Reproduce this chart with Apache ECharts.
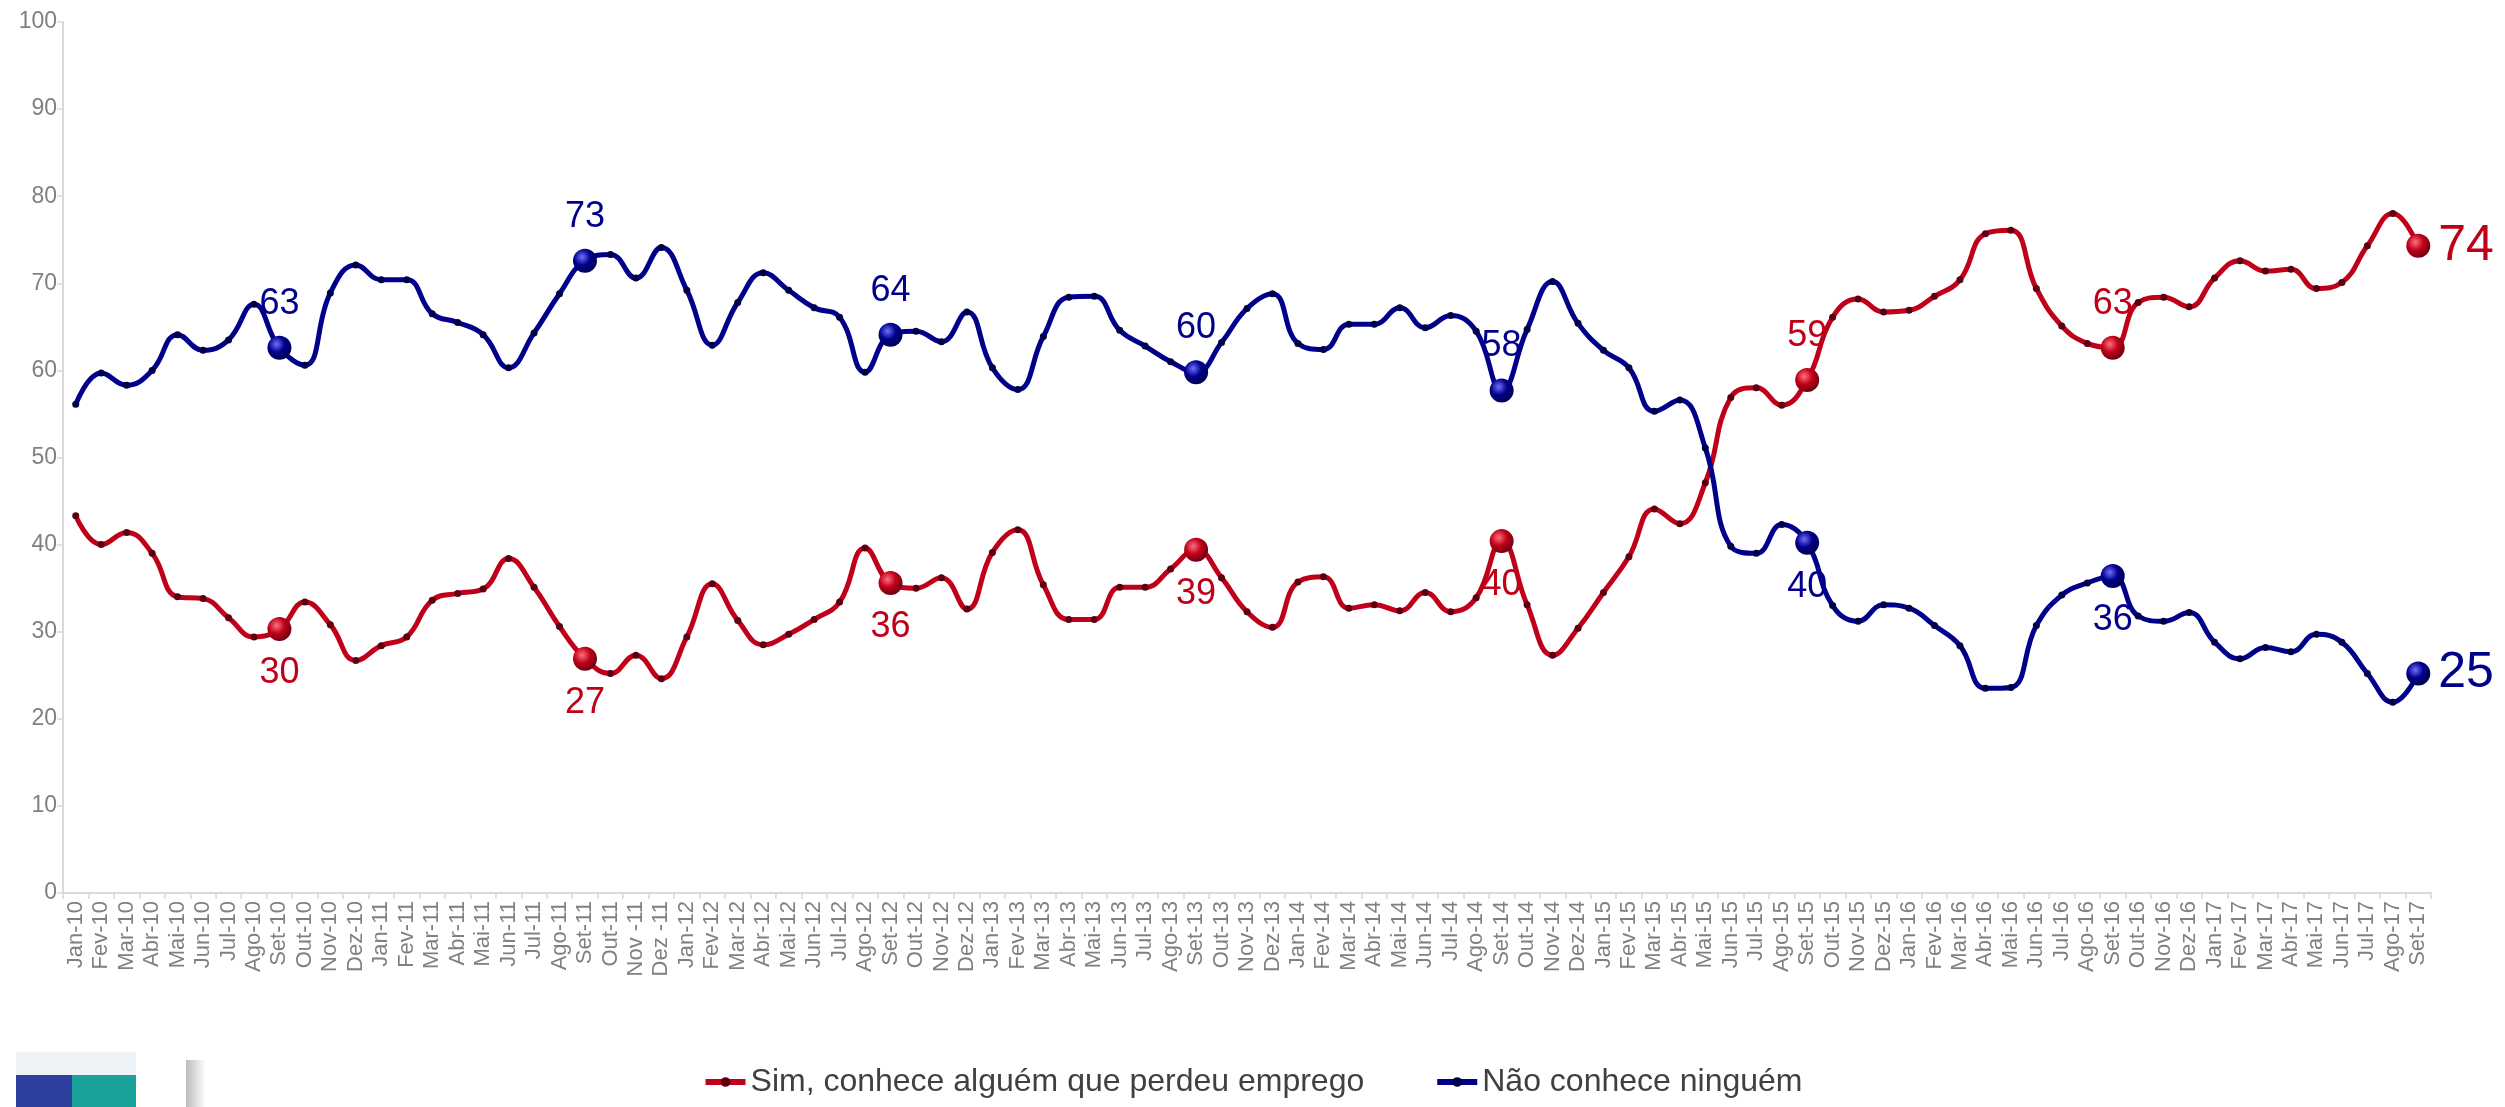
<!DOCTYPE html>
<html>
<head>
<meta charset="utf-8">
<script src="https://cdn.jsdelivr.net/npm/echarts@6/dist/echarts.min.js"></script>
<style>
html,body{margin:0;padding:0;background:#fff;}
#chart{width:2505px;height:1107px;}
</style>
</head>
<body>
<div id="chart"></div>
<script>
const categories = [
 "Jan-10","Fev-10","Mar-10","Abr-10","Mai-10","Jun-10","Jul-10","Ago-10","Set-10","Out-10","Nov-10","Dez-10",
 "Jan-11","Fev-11","Mar-11","Abr-11","Mai-11","Jun-11","Jul-11","Ago-11","Set-11","Out-11","Nov -11","Dez -11",
 "Jan-12","Fev-12","Mar-12","Abr-12","Mai-12","Jun-12","Jul-12","Ago-12","Set-12","Out-12","Nov-12","Dez-12",
 "Jan-13","Fev-13","Mar-13","Abr-13","Mai-13","Jun-13","Jul-13","Ago-13","Set-13","Out-13","Nov-13","Dez-13",
 "Jan-14","Fev-14","Mar-14","Abr-14","Mai-14","Jun-14","Jul-14","Ago-14","Set-14","Out-14","Nov-14","Dez-14",
 "Jan-15","Fev-15","Mar-15","Abr-15","Mai-15","Jun-15","Jul-15","Ago-15","Set-15","Out-15","Nov-15","Dez-15",
 "Jan-16","Fev-16","Mar-16","Abr-16","Mai-16","Jun-16","Jul-16","Ago-16","Set-16","Out-16","Nov-16","Dez-16",
 "Jan-17","Fev-17","Mar-17","Abr-17","Mai-17","Jun-17","Jul-17","Ago-17","Set-17"
];

const simValues = [
 43.3,40.0,41.4,39.0,34.0,33.8,31.6,29.4,30.3,33.4,30.8,26.7,
 28.4,29.4,33.6,34.4,34.9,38.4,35.1,30.6,26.9,25.2,27.3,24.6,
 29.4,35.5,31.3,28.5,29.7,31.4,33.4,39.6,35.6,35.0,36.2,32.6,
 39.1,41.7,35.4,31.4,31.4,35.1,35.1,37.2,39.4,36.2,32.3,30.5,
 35.7,36.3,32.7,33.1,32.4,34.5,32.3,33.9,40.4,33.1,27.3,30.4,
 34.5,38.6,44.1,42.4,47.1,56.9,58.0,56.0,58.9,66.1,68.2,66.7,
 66.9,68.5,70.4,75.7,76.1,69.4,65.1,63.1,62.6,67.8,68.4,67.3,
 70.6,72.6,71.4,71.6,69.4,70.1,74.3,78.0,74.3
];

const naoValues = [
 56.1,59.7,58.3,60.0,64.1,62.3,63.5,67.6,62.6,60.6,68.9,72.1,
 70.4,70.4,66.5,65.5,64.1,60.3,64.3,68.8,72.6,73.3,70.6,74.1,
 69.2,62.9,67.8,71.2,69.2,67.2,66.1,59.8,64.1,64.5,63.3,66.7,
 60.3,57.8,63.9,68.4,68.5,64.6,62.8,61.0,59.8,63.2,67.1,68.8,
 63.1,62.4,65.3,65.3,67.2,64.9,66.3,64.5,57.7,64.7,70.2,65.4,
 62.3,60.3,55.3,56.6,51.1,39.8,39.0,42.3,40.2,33.0,31.2,33.1,
 32.7,30.7,28.4,23.5,23.6,30.7,34.2,35.6,36.4,31.8,31.2,32.2,
 28.8,26.9,28.2,27.7,29.7,28.8,25.2,21.9,25.2
];

const yTicks = [0,10,20,30,40,50,60,70,80,90,100];

// highlighted months (Set of each year) and label placement
const highlightIdx = [8,20,32,44,56,68,80,92];
const simLabelPos = ["bottom","bottom","bottom","bottom","bottom","top","top","right"];
const naoLabelPos = ["top","top","top","top","top","bottom","bottom","right"];

const RED = "#C00018", RED_DARK = "#5a0012";
const BLUE = "#00008B", BLUE_DARK = "#000045";
const FONT = "'Liberation Sans', Arial, sans-serif";

function sphere(light, mid, dark){
  return {type:'radial', x:0.38, y:0.35, r:0.75, colorStops:[
    {offset:0, color:light},{offset:0.45, color:mid},{offset:1, color:dark}]};
}

function buildData(values, positions, color, light, dark){
  return values.map((v,i)=>{
    const k = highlightIdx.indexOf(i);
    if (k < 0) return v;
    const last = (positions[k] === 'right');
    return {
      value: v,
      symbolSize: 24,
      itemStyle: {color: sphere(light, color, dark)},
      label: {
        show: true,
        position: positions[k],
        distance: last ? 8 : 14,
        formatter: (p)=> String(Math.round(p.value)),
        fontSize: last ? 50 : 36,
        color: color,
        fontFamily: FONT
      }
    };
  });
}

const chart = echarts.init(document.getElementById('chart'), null, {renderer:'canvas'});
chart.setOption({
  animation: false,
  backgroundColor: '#ffffff',
  grid: {left: 63, right: 74, top: 22, bottom: 214, containLabel: false},
  xAxis: {
    type: 'category',
    data: categories,
    boundaryGap: true,
    axisLine: {lineStyle: {color: '#d9d9d9', width: 2}},
    axisTick: {show: true, alignWithLabel: false, interval: 0, length: 6, lineStyle: {color: '#d9d9d9', width: 1.5}},
    axisLabel: {interval: 0, rotate: 90, color: '#808080', fontSize: 22, fontFamily: FONT, margin: 8},
    splitLine: {show: false}
  },
  yAxis: {
    type: 'value',
    min: yTicks[0], max: yTicks[yTicks.length-1], interval: 10,
    axisLine: {show: true, lineStyle: {color: '#d9d9d9', width: 2}},
    axisTick: {show: true, length: 6, lineStyle: {color: '#d9d9d9', width: 1.5}},
    axisLabel: {color: '#808080', fontSize: 23, fontFamily: FONT, margin: 6},
    splitLine: {show: false}
  },
  legend: {
    bottom: 4,
    left: 'center',
    itemWidth: 40,
    itemHeight: 12,
    itemGap: 70,
    lineStyle: {width: 6},
    textStyle: {fontSize: 32, color: '#404040', fontFamily: FONT},
    data: ['Sim, conhece alguém que perdeu emprego', 'Não conhece ninguém']
  },
  graphic: [
    {type:'rect', left: 16, top: 1052, shape:{width: 120, height: 23}, style:{fill:'#eef3f7'}},
    {type:'rect', left: 16, top: 1075, shape:{width: 56, height: 32}, style:{fill:'#2f3f9f'}},
    {type:'rect', left: 72, top: 1075, shape:{width: 64, height: 32}, style:{fill:'#1aa39a'}},
    {type:'rect', left: 186, top: 1060, shape:{width: 20, height: 47},
      style:{fill:{type:'linear', x:0, y:0, x2:1, y2:0, colorStops:[{offset:0,color:'#bbbbbb'},{offset:1,color:'#ffffff'}]}}}
  ],
  series: [
    {
      name: 'Sim, conhece alguém que perdeu emprego',
      type: 'line',
      smooth: 0.45,
      data: buildData(simValues, simLabelPos, RED, '#ff7080', RED_DARK),
      lineStyle: {color: RED, width: 5},
      itemStyle: {color: RED_DARK},
      symbol: 'circle',
      symbolSize: 7,
      showAllSymbol: true,
      z: 3
    },
    {
      name: 'Não conhece ninguém',
      type: 'line',
      smooth: 0.45,
      data: buildData(naoValues, naoLabelPos, BLUE, '#7070ff', BLUE_DARK),
      lineStyle: {color: BLUE, width: 5},
      itemStyle: {color: BLUE_DARK},
      symbol: 'circle',
      symbolSize: 7,
      showAllSymbol: true,
      z: 3
    }
  ]
});
</script>
</body>
</html>
